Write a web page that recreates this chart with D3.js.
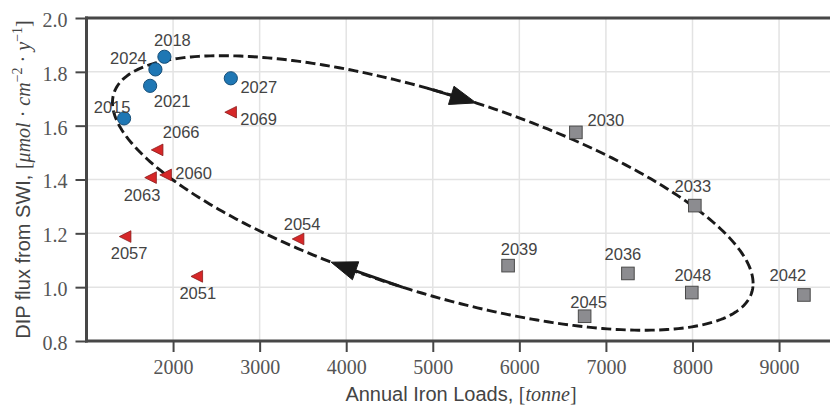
<!DOCTYPE html>
<html>
<head>
<meta charset="utf-8">
<script src="https://cdn.jsdelivr.net/npm/d3@7"></script>
<style>
  html, body { margin: 0; padding: 0; background: #fff; }
  svg { display: block; }
</style>
</head>
<body>
<svg id="chart" width="830" height="406"></svg>
<script>
// Phosphate flux vs. iron loads, grouped by period
const blueYears = [2015, 2018, 2021, 2024, 2027];
const blueLoads = [1434, 1900, 1735, 1796, 2667];
const blueFlux  = [1.627, 1.856, 1.748, 1.809, 1.776];

const greyYears = [2030, 2033, 2036, 2039, 2042, 2045, 2048];
const greyLoads = [6653, 8027, 7254, 5870, 9287, 6754, 7992];
const greyFlux  = [1.575, 1.303, 1.051, 1.080, 0.971, 0.892, 0.980];

const redYears = [2051, 2054, 2057, 2060, 2063, 2066, 2069];
const redLoads = [2274, 3444, 1446, 1914, 1740, 1816, 2665];
const redFlux  = [1.040, 1.179, 1.188, 1.417, 1.407, 1.510, 1.650];

const xTicks = [2000, 3000, 4000, 5000, 6000, 7000, 8000, 9000];
const yTicks = [0.8, 1.0, 1.2, 1.4, 1.6, 1.8, 2.0];

// Cycle ellipse: x = cx + rx cos t, y = cy + ry cos(t - phase)
const cycleCenter = [5000, 1.35];
const cycleRadii = [3700, 0.51];
const cyclePhase = 2.29;
// Direction arrows given as [tail t, tip t] on the ellipse
const cycleArrows = [[1.586, 1.435], [-1.664, -1.894]];

// Label placement (pixel offsets from each marker: centre x, baseline y)
const labelOffsets = {
  2015: [-12, -5], 2018: [8, -11], 2021: [22, 21], 2024: [-27, -5], 2027: [28, 15],
  2030: [30, -6], 2033: [-2, -14], 2036: [-5, -13.5], 2039: [11, -11], 2042: [-16, -14],
  2045: [4, -8], 2048: [1, -11.5],
  2051: [1, 23], 2054: [4, -9], 2057: [4, 22.5], 2060: [28, 4.5], 2063: [-8.5, 23],
  2066: [24, -11.5], 2069: [28, 12.5]
};

const svg = d3.select("#chart");
const margin = { left: 86.5, top: 18, bottom: 341, right: 831 };

const x = d3.scaleLinear().domain([1000, 9600]).range([margin.left, margin.right]);
const y = d3.scaleLinear().domain([0.8, 2.0]).range([margin.bottom, margin.top]);

const gridColor = "#e3e3e3";
const spineColor = "#474747";
const tickFont = "'Liberation Serif', 'DejaVu Serif', serif";
const sansFont = "'Liberation Sans', Arial, Helvetica, sans-serif";

// grid
const grid = svg.append("g");
grid.selectAll("line.gx").data(xTicks).join("line")
  .attr("x1", d => x(d)).attr("x2", d => x(d))
  .attr("y1", margin.top).attr("y2", margin.bottom)
  .attr("stroke", gridColor).attr("stroke-width", 1.5);
grid.selectAll("line.gy").data(yTicks.filter(v => v > 0.8 && v < 2.0)).join("line")
  .attr("x1", margin.left).attr("x2", margin.right)
  .attr("y1", d => y(d)).attr("y2", d => y(d))
  .attr("stroke", gridColor).attr("stroke-width", 1.5);

// axes
const xAxis = d3.axisBottom(x).tickValues(xTicks).tickFormat(d3.format("d"))
  .tickSize(11).tickPadding(7);
const yAxis = d3.axisLeft(y).tickValues(yTicks).tickFormat(d3.format(".1f"))
  .tickSize(11).tickPadding(8);

const gx = svg.append("g").attr("transform", `translate(0,${margin.bottom})`).call(xAxis);
const gy = svg.append("g").attr("transform", `translate(${margin.left},0)`).call(yAxis);
[gx, gy].forEach(g => {
  g.select(".domain").remove();
  g.selectAll(".tick line").attr("stroke", spineColor).attr("stroke-width", 2);
  g.selectAll(".tick text").attr("fill", "#555").attr("font-family", tickFont)
    .attr("font-size", 20);
});
gy.selectAll(".tick text").attr("dy", "0.42em");
gx.selectAll(".tick text").attr("dy", "0.75em");

// spines
const spines = svg.append("g").attr("stroke", spineColor).attr("stroke-width", 3)
  .attr("stroke-linecap", "square");
spines.append("line").attr("x1", margin.left).attr("x2", margin.left)
  .attr("y1", margin.top).attr("y2", margin.bottom);
spines.append("line").attr("x1", margin.left).attr("x2", 840)
  .attr("y1", margin.top).attr("y2", margin.top);
spines.append("line").attr("x1", margin.left).attr("x2", 840)
  .attr("y1", margin.bottom).attr("y2", margin.bottom);

// cycle ellipse
const ellipsePoint = t => [
  cycleCenter[0] + cycleRadii[0] * Math.cos(t),
  cycleCenter[1] + cycleRadii[1] * Math.cos(t - cyclePhase)
];
const ts = d3.range(0, 361).map(i => i / 360 * 2 * Math.PI);
const line = d3.line().x(d => x(d[0])).y(d => y(d[1])).curve(d3.curveLinear);
svg.append("path")
  .attr("d", line(ts.map(ellipsePoint)))
  .attr("fill", "none").attr("stroke", "#1a1a1a").attr("stroke-width", 2.9)
  .attr("stroke-dasharray", "10,4.5");

// direction arrows
const arrows = svg.append("g");
cycleArrows.forEach(([t0, t1]) => {
  const p0 = ellipsePoint(t0), p1 = ellipsePoint(t1);
  const x0 = x(p0[0]), y0 = y(p0[1]), x1 = x(p1[0]), y1 = y(p1[1]);
  const len = Math.hypot(x1 - x0, y1 - y0);
  const ux = (x1 - x0) / len, uy = (y1 - y0) / len;
  const headLen = 26, headHalf = 9.5;
  const bx = x1 - ux * headLen, by = y1 - uy * headLen;
  arrows.append("line").attr("x1", x0).attr("y1", y0).attr("x2", bx).attr("y2", by)
    .attr("stroke", "#1a1a1a").attr("stroke-width", 2.9);
  arrows.append("path")
    .attr("d", `M${x1},${y1}L${bx - uy * headHalf},${by + ux * headHalf}L${bx + uy * headHalf},${by - ux * headHalf}Z`)
    .attr("fill", "#1a1a1a").attr("stroke", "#1a1a1a").attr("stroke-width", 1);
});

// markers
const zip = (ys, xs, vs) => ys.map((yr, i) => ({ year: yr, load: xs[i], flux: vs[i] }));
const blue = zip(blueYears, blueLoads, blueFlux);
const grey = zip(greyYears, greyLoads, greyFlux);
const red = zip(redYears, redLoads, redFlux);

const marks = svg.append("g");
marks.selectAll("rect").data(grey).join("rect")
  .attr("x", d => x(d.load) - 6.3).attr("y", d => y(d.flux) - 6.3)
  .attr("width", 12.6).attr("height", 12.6)
  .attr("fill", "#8c8c90").attr("stroke", "#4a4a4a").attr("stroke-width", 1);
marks.selectAll("path.tri").data(red).join("path").attr("class", "tri")
  .attr("d", d => {
    const cx = x(d.load), cy = y(d.flux), r = 5.8;
    return `M${cx - r},${cy}L${cx + r},${cy - r}L${cx + r},${cy + r}Z`;
  })
  .attr("fill", "#d62728").attr("stroke", "#8a1c1c").attr("stroke-width", 0.8);
marks.selectAll("circle").data(blue).join("circle")
  .attr("cx", d => x(d.load)).attr("cy", d => y(d.flux)).attr("r", 6.6)
  .attr("fill", "#1f77b4").attr("stroke", "#164e78").attr("stroke-width", 1);

// year labels
svg.append("g").selectAll("text").data([...blue, ...grey, ...red]).join("text")
  .attr("x", d => x(d.load) + labelOffsets[d.year][0])
  .attr("y", d => y(d.flux) + labelOffsets[d.year][1])
  .attr("text-anchor", "middle")
  .attr("font-family", sansFont).attr("font-size", 16.5).attr("fill", "#444")
  .text(d => d.year);

// axis titles
const xt = svg.append("text").attr("x", 461).attr("y", 401)
  .attr("text-anchor", "middle").attr("fill", "#444").attr("font-size", 20);
xt.append("tspan").attr("font-family", sansFont).text("Annual Iron Loads, ");
xt.append("tspan").attr("font-family", tickFont).text("[");
xt.append("tspan").attr("font-family", tickFont).attr("font-style", "italic").text("tonne");
xt.append("tspan").attr("font-family", tickFont).text("]");

const yt = svg.append("text").attr("transform", "translate(30,179.5) rotate(-90)")
  .attr("text-anchor", "middle").attr("fill", "#444").attr("font-size", 20);
yt.append("tspan").attr("font-family", sansFont).text("DIP flux from SWI, ");
yt.append("tspan").attr("font-family", tickFont).text("[");
yt.append("tspan").attr("font-family", tickFont).attr("font-style", "italic").text("μmol");
yt.append("tspan").attr("font-family", tickFont).text(" · ");
yt.append("tspan").attr("font-family", tickFont).attr("font-style", "italic").text("cm");
yt.append("tspan").attr("font-family", tickFont).attr("font-size", 14).attr("dy", -8).text("−2");
yt.append("tspan").attr("font-family", tickFont).attr("dy", 8).text(" · ");
yt.append("tspan").attr("font-family", tickFont).attr("font-style", "italic").text("y");
yt.append("tspan").attr("font-family", tickFont).attr("font-size", 14).attr("dy", -8).text("−1");
yt.append("tspan").attr("font-family", tickFont).attr("dy", 8).text("]");
</script>
</body>
</html>
